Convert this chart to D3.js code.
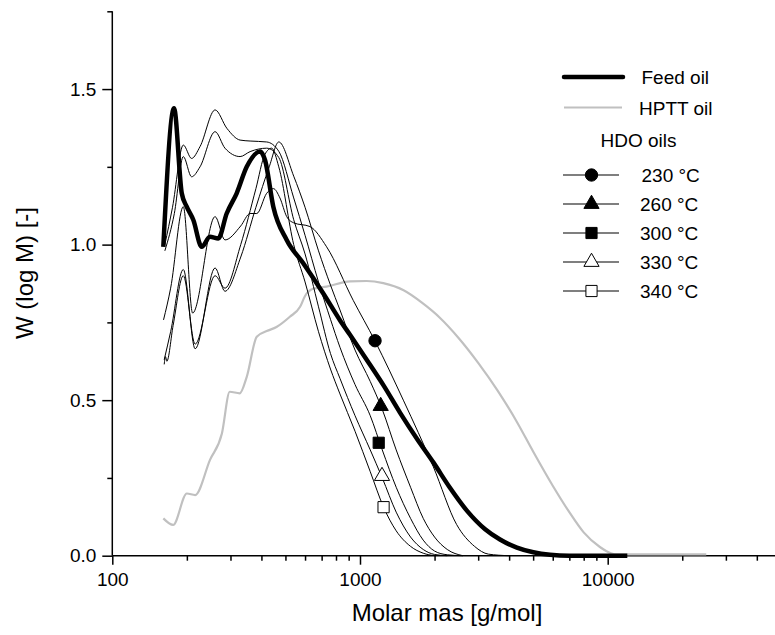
<!DOCTYPE html>
<html>
<head>
<meta charset="utf-8">
<script src="https://cdn.jsdelivr.net/npm/d3@7"></script>
<style>
  body { margin: 0; background: #fff; }
  svg { display: block; font-family: "Liberation Sans", Arial, sans-serif; }
</style>
</head>
<body>
<svg></svg>
<script>
const WIDTH = 775, HEIGHT = 635;

// ---- data (molar mass in g/mol, W(log M)) ----
const feedM = [160.7, 177.5, 190.7, 199.7, 212.4, 229.6, 247.9, 267.9, 289.6, 317.8, 348.9, 394.8, 413.5, 446.7, 505.9, 590, 711, 830, 911, 1064, 1250, 1450, 1700, 1977, 2300, 2700, 3200, 3675, 4300, 5010, 5850, 7000, 12000];
const feedW = [0.993, 1.438, 1.165, 1.122, 1.079, 0.993, 1.025, 1.020, 1.100, 1.165, 1.250, 1.299, 1.272, 1.122, 1.015, 0.940, 0.843, 0.757, 0.710, 0.630, 0.545, 0.460, 0.375, 0.300, 0.220, 0.145, 0.085, 0.052, 0.026, 0.011, 0.003, 0, 0];

const hpttM = [160.7, 176, 200, 216, 248, 277, 298, 327, 349, 383, 420, 460, 521, 573, 600, 647, 733, 911, 1064, 1242, 1500, 1800, 2100, 2500, 3000, 3600, 4300, 5000, 6000, 7000, 8000, 9300, 10300, 11000, 25000];
const hpttW = [0.120, 0.099, 0.200, 0.195, 0.308, 0.393, 0.527, 0.522, 0.575, 0.704, 0.722, 0.735, 0.768, 0.800, 0.835, 0.858, 0.865, 0.882, 0.883, 0.876, 0.853, 0.810, 0.765, 0.700, 0.620, 0.530, 0.430, 0.335, 0.225, 0.140, 0.075, 0.028, 0.008, 0.004, 0.004];

const hdo230M = [161, 172, 193.5, 211, 260, 285, 330, 360, 383, 420, 447, 475, 506, 540, 628, 733, 940, 1150, 1496, 1977, 2456, 2900, 3300, 4000];
const hdo230W = [0.758, 0.86, 1.122, 0.78, 1.09, 1.015, 1.06, 1.10, 1.10, 1.165, 1.18, 1.15, 1.09, 1.07, 1.058, 0.993, 0.82, 0.69, 0.50, 0.286, 0.10, 0.03, 0.005, 0];

const hdo260M = [162, 172, 193.5, 216, 260, 285, 330, 380, 430, 470, 540, 600, 680, 760, 830, 955, 1100, 1230, 1400, 1600, 1800, 2000, 2250, 2600];
const hdo260W = [0.63, 0.72, 0.92, 0.665, 0.925, 0.85, 0.96, 1.12, 1.25, 1.33, 1.22, 1.12, 0.98, 0.87, 0.79, 0.661, 0.56, 0.47, 0.34, 0.22, 0.12, 0.06, 0.02, 0];

const hdo300M = [163, 175, 193.5, 209, 226, 260, 290, 328, 360, 420, 470, 540, 600, 680, 760, 830, 955, 1100, 1230, 1400, 1600, 1800, 2000, 2250, 2600];
const hdo300W = [1.0, 1.12, 1.32, 1.277, 1.315, 1.433, 1.374, 1.336, 1.333, 1.33, 1.30, 1.15, 1.03, 0.88, 0.76, 0.67, 0.55, 0.45, 0.34, 0.22, 0.12, 0.05, 0.015, 0.003, 0];

const hdo330M = [163, 178, 193.5, 209, 226, 260, 285, 328, 360, 420, 470, 540, 600, 680, 760, 830, 955, 1100, 1230, 1400, 1600, 1800, 2000, 2250];
const hdo330W = [0.98, 1.10, 1.283, 1.218, 1.25, 1.363, 1.31, 1.283, 1.299, 1.31, 1.28, 1.08, 0.97, 0.80, 0.65, 0.57, 0.45, 0.34, 0.25, 0.14, 0.06, 0.02, 0.004, 0];

const hdo340M = [162, 164, 166, 176, 193.5, 216, 260, 285, 330, 380, 413, 440, 470, 540, 600, 680, 760, 830, 955, 1100, 1245, 1400, 1600, 1800, 2000];
const hdo340W = [0.615, 0.64, 0.625, 0.74, 0.90, 0.68, 0.90, 0.86, 1.0, 1.18, 1.29, 1.31, 1.25, 1.00, 0.88, 0.72, 0.60, 0.52, 0.40, 0.27, 0.156, 0.08, 0.03, 0.008, 0];

// marker on each HDO curve
const markerM = [1150, 1212, 1190, 1227, 1245];
const markerW = [0.691, 0.481, 0.363, 0.256, 0.156];

const hdoLabels = ['230 °C', '260 °C', '300 °C', '330 °C', '340 °C'];
const hdoSymbols = ['circle', 'triangle', 'square', 'triangle', 'square'];
const hdoFilled = [true, true, true, false, false];

const xMajor = [100, 1000, 10000];
const xMinor = [200, 300, 400, 500, 600, 700, 800, 900, 2000, 3000, 4000, 5000, 6000, 7000, 8000, 9000, 20000, 30000, 40000];
const yMajor = [0, 0.5, 1.0, 1.5];
const yMinor = [0.25, 0.75, 1.25, 1.75];

// ---- layout ----
const x0 = 112.3, decade = 247.7, yBottom = 555.7, yTop = 11.3;

let svg = d3.select('svg')
    .attr('width', WIDTH)
    .attr('height', HEIGHT);

let x = d3.scaleLog()
    .domain([100, 50000])
    .range([x0, x0 + decade * Math.log10(500)]);
let y = d3.scaleLinear()
    .domain([0, 1.75])
    .range([yBottom, yTop]);

const zip = (ms, ws) => ms.map((m, i) => [m, ws[i]]);

let line = d3.line()
    .x(d => x(d[0]))
    .y(d => y(d[1]))
    .curve(d3.curveMonotoneX);

// ---- axes ----
function styleAxis(g){
    g.select('.domain').remove();
    g.selectAll('line').attr('stroke', '#000').attr('stroke-width', 1.5);
    g.selectAll('text').attr('fill', '#000').attr('font-size', 19);
}

svg.append('g')
    .attr('transform', `translate(0,${yBottom})`)
    .call(d3.axisBottom(x).tickValues(xMinor).tickSize(5).tickFormat(''))
    .call(styleAxis);
svg.append('g')
    .attr('transform', `translate(0,${yBottom})`)
    .call(d3.axisBottom(x).tickValues(xMajor).tickSize(9).tickPadding(8).tickFormat(d3.format('d')))
    .call(styleAxis);

svg.append('g')
    .attr('transform', `translate(${x0},0)`)
    .call(d3.axisLeft(y).tickValues(yMinor).tickSize(5).tickFormat(''))
    .call(styleAxis);
svg.append('g')
    .attr('transform', `translate(${x0},0)`)
    .call(d3.axisLeft(y).tickValues(yMajor).tickSize(10).tickPadding(6).tickFormat(d3.format('.1f')))
    .call(styleAxis);

// axis lines
svg.append('line')
    .attr('x1', x0).attr('x2', WIDTH)
    .attr('y1', yBottom).attr('y2', yBottom)
    .attr('stroke', '#000').attr('stroke-width', 1.5);
svg.append('line')
    .attr('x1', x0).attr('x2', x0)
    .attr('y1', yTop).attr('y2', yBottom)
    .attr('stroke', '#000').attr('stroke-width', 1.5);

// axis titles
svg.append('text')
    .attr('x', 447).attr('y', 621)
    .attr('text-anchor', 'middle')
    .attr('font-size', 24)
    .text('Molar mas [g/mol]');
svg.append('text')
    .attr('transform', 'translate(33,273) rotate(-90)')
    .attr('text-anchor', 'middle')
    .attr('font-size', 24)
    .text('W (log M) [-]');

// ---- curves ----
let plot = svg.append('g');

plot.append('path')
    .datum(zip(hpttM, hpttW))
    .attr('d', line)
    .attr('fill', 'none')
    .attr('stroke', '#c0c0c0')
    .attr('stroke-width', 2.2);

const hdoSeries = [
    zip(hdo230M, hdo230W),
    zip(hdo260M, hdo260W),
    zip(hdo300M, hdo300W),
    zip(hdo330M, hdo330W),
    zip(hdo340M, hdo340W)
];

plot.selectAll('path.hdo')
    .data(hdoSeries)
    .enter()
    .append('path')
        .classed('hdo', true)
        .attr('d', line)
        .attr('fill', 'none')
        .attr('stroke', '#000')
        .attr('stroke-width', 1);

plot.append('path')
    .datum(zip(feedM, feedW))
    .attr('d', line)
    .attr('fill', 'none')
    .attr('stroke', '#000')
    .attr('stroke-width', 4.5)
    .attr('stroke-linejoin', 'round');

// symbol generator
function symbolPath(kind){
    if(kind === 'circle') return d3.symbol(d3.symbolCircle, 120)();
    if(kind === 'triangle') return d3.symbol(d3.symbolTriangle, 100)();
    return d3.symbol(d3.symbolSquare, 125)();
}

plot.selectAll('path.marker')
    .data(markerM.map((m, i) => ({m: m, w: markerW[i], i: i})))
    .enter()
    .append('path')
        .classed('marker', true)
        .attr('d', d => symbolPath(hdoSymbols[d.i]))
        .attr('transform', d => `translate(${x(d.m)},${y(d.w)})`)
        .attr('fill', d => hdoFilled[d.i] ? '#000' : '#fff')
        .attr('stroke', '#000')
        .attr('stroke-width', 1);

// ---- legend ----
let legend = svg.append('g').attr('font-size', 19);

legend.append('line')
    .attr('x1', 564).attr('x2', 623).attr('y1', 77).attr('y2', 77)
    .attr('stroke', '#000').attr('stroke-width', 4.5).attr('stroke-linecap', 'round');
legend.append('text').attr('x', 641.5).attr('y', 84).text('Feed oil');

legend.append('line')
    .attr('x1', 564).attr('x2', 622).attr('y1', 107.5).attr('y2', 107.5)
    .attr('stroke', '#c0c0c0').attr('stroke-width', 2.2);
legend.append('text').attr('x', 639).attr('y', 114.5).text('HPTT oil');

legend.append('text').attr('x', 600.5).attr('y', 147).text('HDO oils');

let rows = legend.selectAll('g.row')
    .data(hdoLabels)
    .enter()
    .append('g')
        .classed('row', true)
        .attr('transform', (d, i) => `translate(0,${175 + i * 29})`);
rows.append('line')
    .attr('x1', 563).attr('x2', 619)
    .attr('stroke', '#000').attr('stroke-width', 1.2);
rows.append('path')
    .attr('d', (d, i) => symbolPath(hdoSymbols[i]))
    .attr('transform', 'translate(591.5,0)')
    .attr('fill', (d, i) => hdoFilled[i] ? '#000' : '#fff')
    .attr('stroke', '#000');
rows.append('text')
    .attr('x', (d, i) => i === 0 ? 641.5 : 640)
    .attr('y', 7)
    .text(d => d);
</script>
</body>
</html>
